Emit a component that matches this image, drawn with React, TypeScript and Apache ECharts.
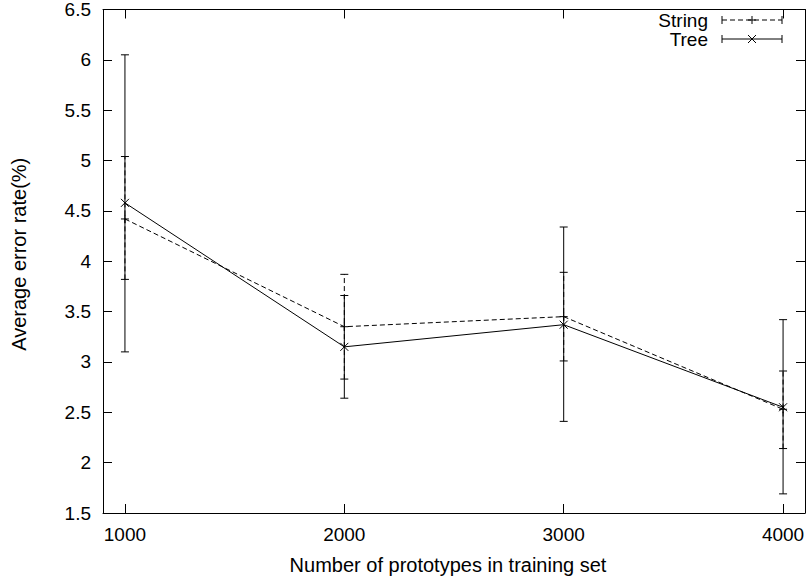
import React, { useEffect, useRef } from "react";
import * as echarts from "echarts";

const xValues = [1000, 2000, 3000, 4000];
const stringMean = [4.42, 3.35, 3.45, 2.53];
const stringLow = [3.82, 2.83, 3.01, 2.14];
const stringHigh = [5.04, 3.87, 3.89, 2.91];
const treeMean = [4.58, 3.15, 3.37, 2.55];
const treeLow = [3.1, 2.64, 2.41, 1.69];
const treeHigh = [6.05, 3.66, 4.34, 3.42];
const xTicks = [1000, 2000, 3000, 4000];
const seriesNames = ["String", "Tree"];

const FONT = "Liberation Sans, Arial, sans-serif";
const FS = 19;
const NAME_FS = 20;
const DASH = [5, 3];

function errSeries(name: string, mean: number[], low: number[], high: number[], marker: "plus" | "cross", dashed: boolean) {
  return {
    type: "custom",
    name,
    xAxisIndex: 0,
    yAxisIndex: 0,
    data: xValues.map((x, i) => [x, mean[i], low[i], high[i]]),
    encode: { x: 0, y: [1, 2, 3] },
    z: 5,
    renderItem: (params: any, api: any) => {
      const x = api.value(0);
      const c = api.coord([x, api.value(1)]);
      const lo = api.coord([x, api.value(2)]);
      const hi = api.coord([x, api.value(3)]);
      const barStyle: any = { stroke: "#000", lineWidth: 1, fill: null };
      if (dashed) barStyle.lineDash = DASH;
      const solid = { stroke: "#000", lineWidth: 1, fill: null };
      const w = 4;
      const m = 4;
      const children: any[] = [
        { type: "line", shape: { x1: lo[0], y1: lo[1], x2: hi[0], y2: hi[1] }, style: barStyle },
        { type: "line", shape: { x1: lo[0] - w, y1: lo[1], x2: lo[0] + w, y2: lo[1] }, style: solid },
        { type: "line", shape: { x1: hi[0] - w, y1: hi[1], x2: hi[0] + w, y2: hi[1] }, style: solid },
      ];
      if (marker === "plus") {
        children.push({ type: "line", shape: { x1: c[0] - m, y1: c[1], x2: c[0] + m, y2: c[1] }, style: solid });
        children.push({ type: "line", shape: { x1: c[0], y1: c[1] - m, x2: c[0], y2: c[1] + m }, style: solid });
      } else {
        children.push({ type: "line", shape: { x1: c[0] - m, y1: c[1] - m, x2: c[0] + m, y2: c[1] + m }, style: solid });
        children.push({ type: "line", shape: { x1: c[0] - m, y1: c[1] + m, x2: c[0] + m, y2: c[1] - m }, style: solid });
      }
      return { type: "group", children };
    },
  };
}

function legendItem(label: string, y: number, dashed: boolean, marker: "plus" | "cross") {
  const x1 = 722;
  const x2 = 782;
  const cx = (x1 + x2) / 2;
  const m = 4;
  const solid = { stroke: "#000", lineWidth: 1 };
  const lineStyle: any = { stroke: "#000", lineWidth: 1 };
  if (dashed) lineStyle.lineDash = DASH;
  const els: any[] = [
    {
      type: "text",
      x: 708,
      y,
      style: { text: label, font: `${FS}px ${FONT}`, lineHeight: 16, fill: "#000", align: "right", verticalAlign: "middle" },
    },
    { type: "line", shape: { x1, y1: y, x2, y2: y }, style: lineStyle },
    { type: "line", shape: { x1, y1: y - 4, x2: x1, y2: y + 4 }, style: solid },
    { type: "line", shape: { x1: x2, y1: y - 4, x2, y2: y + 4 }, style: solid },
  ];
  if (marker === "plus") {
    els.push({ type: "line", shape: { x1: cx - m, y1: y, x2: cx + m, y2: y }, style: solid });
    els.push({ type: "line", shape: { x1: cx, y1: y - m, x2: cx, y2: y + m }, style: solid });
  } else {
    els.push({ type: "line", shape: { x1: cx - m, y1: y - m, x2: cx + m, y2: y + m }, style: solid });
    els.push({ type: "line", shape: { x1: cx - m, y1: y + m, x2: cx + m, y2: y - m }, style: solid });
  }
  return els;
}

export default function App() {
  const ref = useRef<HTMLDivElement>(null);
  useEffect(() => {
    if (!ref.current) return;
    const chart = echarts.init(ref.current, undefined, { renderer: "svg" });
    const axisLine = { show: true, onZero: false, lineStyle: { color: "#000", width: 1 } };
    const tick = { show: true, inside: true, length: 9, lineStyle: { color: "#000", width: 1 } };
    chart.setOption({
      animation: false,
      backgroundColor: "#fff",
      grid: { left: 103, right: 5, top: 9, bottom: 68, containLabel: false },
      xAxis: [
        {
          type: "value",
          min: 900,
          max: 4100,
          position: "bottom",
          axisLine,
          axisTick: { ...tick, customValues: xTicks },
          axisLabel: {
            customValues: xTicks,
            formatter: (v: number) => String(v),
            color: "#000",
            fontSize: FS,
            fontFamily: FONT,
            margin: 12,
          },
          splitLine: { show: false },
          name: "Number of prototypes in training set",
          nameLocation: "middle",
          nameGap: 42,
          nameTextStyle: { color: "#000", fontSize: NAME_FS, fontFamily: FONT, padding: [0, 12, 0, 0] },
        },
        {
          type: "value",
          min: 900,
          max: 4100,
          position: "top",
          axisLine,
          axisTick: { ...tick, customValues: xTicks },
          axisLabel: { show: false },
          splitLine: { show: false },
        },
      ],
      yAxis: [
        {
          type: "value",
          min: 1.5,
          max: 6.5,
          interval: 0.5,
          position: "left",
          axisLine,
          axisTick: tick,
          axisLabel: { formatter: (v: number) => String(v), color: "#000", fontSize: FS, fontFamily: FONT, margin: 12 },
          splitLine: { show: false },
          name: "Average error rate(%)",
          nameLocation: "middle",
          nameGap: 74,
          nameTextStyle: { color: "#000", fontSize: NAME_FS, fontFamily: FONT, padding: [0, 0, 0, 14] },
        },
        {
          type: "value",
          min: 1.5,
          max: 6.5,
          interval: 0.5,
          position: "right",
          axisLine,
          axisTick: tick,
          axisLabel: { show: false },
          splitLine: { show: false },
        },
      ],
      series: [
        {
          type: "line",
          name: seriesNames[0],
          xAxisIndex: 0,
          yAxisIndex: 0,
          data: xValues.map((x, i) => [x, stringMean[i]]),
          symbol: "none",
          lineStyle: { color: "#000", width: 1, type: DASH },
          z: 4,
        },
        {
          type: "line",
          name: seriesNames[1],
          xAxisIndex: 0,
          yAxisIndex: 0,
          data: xValues.map((x, i) => [x, treeMean[i]]),
          symbol: "none",
          lineStyle: { color: "#000", width: 1, type: "solid" },
          z: 4,
        },
        errSeries(seriesNames[0], stringMean, stringLow, stringHigh, "plus", true),
        errSeries(seriesNames[1], treeMean, treeLow, treeHigh, "cross", false),
      ],
      graphic: [...legendItem(seriesNames[0], 20, true, "plus"), ...legendItem(seriesNames[1], 39, false, "cross")],
    });
    return () => chart.dispose();
  }, []);
  return <div ref={ref} style={{ position: "absolute", left: 0, top: 0, width: 810, height: 581 }} />;
}
